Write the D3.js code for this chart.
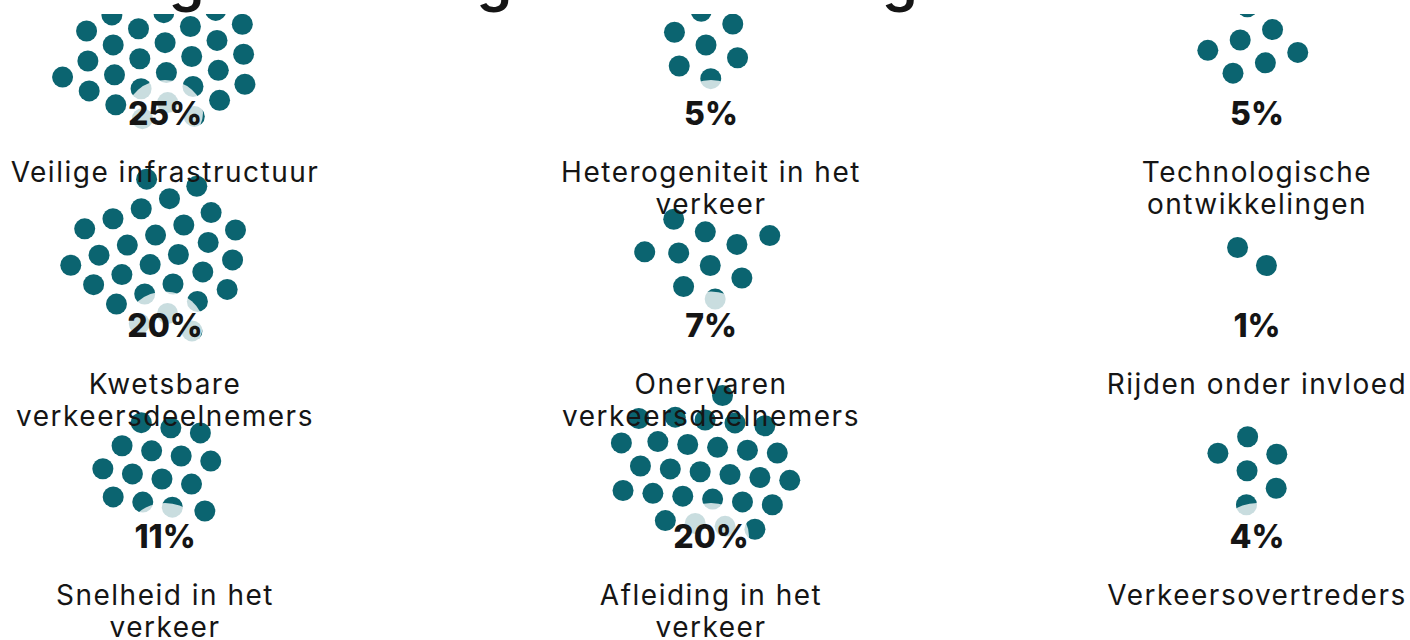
<!DOCTYPE html>
<html lang="nl">
<head>
<meta charset="UTF-8">
<title>Meest genoemde gevaren</title>
<script src="https://cdn.jsdelivr.net/npm/d3@7"></script>
<style>
  html, body { margin: 0; padding: 0; background: #fff; }
  svg { display: block; }
  text { font-family: Inter, "Noto Sans", sans-serif; fill: #151515; }
</style>
</head>
<body>
<svg id="chart" width="1410" height="640"></svg>
<script>
// gegevens (rij per rij, drie kolommen)
const titel = "Meest genoemde gevaren in het gewone verkeer";
const categorieen = [
  "Veilige infrastructuur",
  "Heterogeniteit in het\nverkeer",
  "Technologische\nontwikkelingen",
  "Kwetsbare\nverkeersdeelnemers",
  "Onervaren\nverkeersdeelnemers",
  "Rijden onder invloed",
  "Snelheid in het\nverkeer",
  "Afleiding in het\nverkeer",
  "Verkeersovertreders"
];
const percentages = [25, 5, 5, 20, 7, 1, 11, 20, 4];
// één stip per antwoord
const aantalStippen = [35, 7, 7, 28, 10, 2, 15, 28, 6];

const kleurStip = "#0b6470";
const straal = 10.5;

const svg = d3.select("#chart");
const x = d3.scalePoint().domain([0, 1, 2]).range([165, 1257]);
const y = d3.scalePoint().domain([0, 1, 2]).range([125, 548]);

const cellen = categorieen.map((naam, i) => ({
  naam,
  pct: percentages[i],
  n: aantalStippen[i],
  kol: i % 3,
  rij: Math.floor(i / 3)
}));

// losse zwerm per groep: verspreide start, daarna botsingen oplossen
cellen.forEach((c, i) => {
  const rnd = d3.randomLcg(0.113 * (i + 1));
  const afstand = c.n <= 10 ? 17 : 15;
  const R = 1.1 * afstand * Math.sqrt(c.n);
  c.nodes = d3.range(c.n).map(() => {
    const r = R * Math.sqrt(rnd()), a = 2 * Math.PI * rnd();
    return { x: 1.1 * r * Math.cos(a), y: 0.9 * r * Math.sin(a) };
  });
  d3.forceSimulation(c.nodes)
    .randomSource(rnd)
    .force("x", d3.forceX(0).strength(0.015))
    .force("y", d3.forceY(0).strength(0.02))
    .force("collide", d3.forceCollide(afstand).iterations(2))
    .stop()
    .tick(200);
  const mx = d3.mean(c.nodes, d => d.x), my = d3.mean(c.nodes, d => d.y);
  c.nodes.forEach(d => { d.x -= mx; d.y -= my; });
});

const laagStippen = svg.append("g");
const laagLabels = svg.append("g");
const laagHalo = svg.append("g");
const laagPct = svg.append("g");

laagStippen.selectAll("g")
  .data(cellen)
  .join("g")
  .attr("transform", d => `translate(${x(d.kol) - 5},${y(d.rij) - 80})`)
  .selectAll("circle")
  .data(d => d.nodes)
  .join("circle")
  .attr("cx", d => d.x)
  .attr("cy", d => d.y)
  .attr("r", straal)
  .attr("fill", kleurStip);

laagLabels.selectAll("text")
  .data(cellen)
  .join("text")
  .attr("text-anchor", "middle")
  .attr("font-size", 28)
  .attr("letter-spacing", 1.5)
  .attr("transform", d => `translate(${x(d.kol)},${y(d.rij) + 57})`)
  .selectAll("tspan")
  .data(d => d.naam.split("\n"))
  .join("tspan")
  .attr("x", 0)
  .attr("dy", (d, i) => i ? 32 : 0)
  .text(d => d);

// witte waas achter het percentage
laagHalo.selectAll("ellipse")
  .data(cellen)
  .join("ellipse")
  .attr("cx", d => x(d.kol))
  .attr("cy", d => y(d.rij) - 12)
  .attr("rx", 38)
  .attr("ry", 33)
  .attr("fill", "#fff")
  .attr("opacity", 0.78);

laagPct.selectAll("text")
  .data(cellen)
  .join("text")
  .attr("x", d => x(d.kol))
  .attr("y", d => y(d.rij))
  .attr("text-anchor", "middle")
  .attr("font-size", 32)
  .attr("font-weight", 800)
  .text(d => d.pct + "%");

// titel valt grotendeels buiten beeld
svg.append("rect")
  .attr("width", 1410)
  .attr("height", 14)
  .attr("fill", "#fff");

svg.append("text")
  .attr("x", -17)
  .attr("y", 0)
  .attr("font-size", 57)
  .attr("font-weight", 600)
  .text(titel);
</script>
</body>
</html>
